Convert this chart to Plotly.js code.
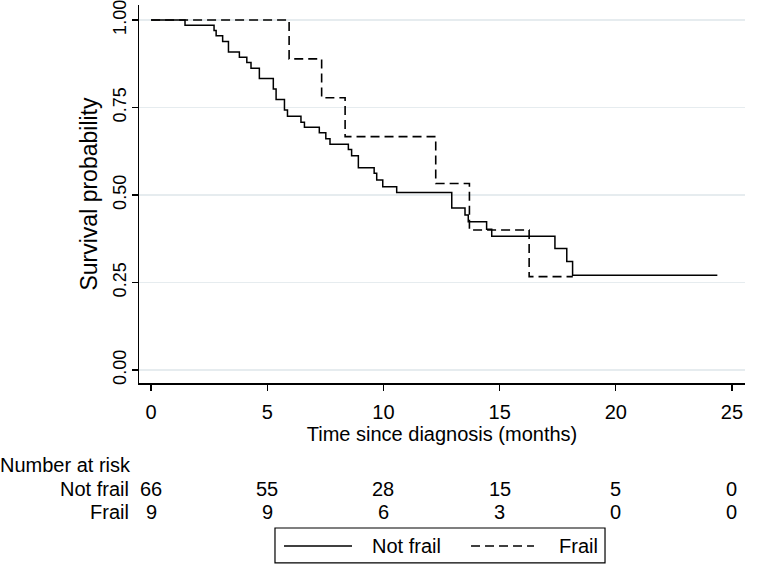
<!DOCTYPE html>
<html>
<head>
<meta charset="utf-8">
<script src="https://cdn.plot.ly/plotly-3.0.1.min.js"></script>
<style>html,body{margin:0;padding:0;background:#fff;}#chart{width:761px;height:568px;}</style>
</head>
<body>
<div id="chart"></div>
<script>
// Kaplan-Meier step data
const notFrailTime = [0, 1.46, 2.71, 2.80, 3.08, 3.33, 3.80, 4.12, 4.30, 4.66, 5.26, 5.38, 5.74, 5.87, 6.45, 6.60, 7.24, 7.52, 7.70, 8.49, 8.63, 8.92, 9.60, 9.71, 9.97, 10.57, 12.94, 13.51, 13.65, 14.44, 14.66, 17.38, 17.89, 18.14, 24.37];
const notFrailSurv = [1, 0.985, 0.970, 0.955, 0.939, 0.909, 0.894, 0.879, 0.862, 0.833, 0.803, 0.773, 0.743, 0.725, 0.708, 0.694, 0.678, 0.661, 0.645, 0.630, 0.612, 0.578, 0.562, 0.543, 0.524, 0.507, 0.463, 0.443, 0.424, 0.402, 0.382, 0.347, 0.310, 0.271, 0.271];
const frailTime = [0, 5.94, 7.34, 8.35, 12.25, 13.70, 16.27, 18.15];
const frailSurv = [1, 0.889, 0.778, 0.667, 0.533, 0.400, 0.267, 0.267];

const xTicks = [0, 5, 10, 15, 20, 25];
const yTicks = [0, 0.25, 0.5, 0.75, 1];
const yTickLabels = ["0.00", "0.25", "0.50", "0.75", "1.00"];
const riskTimes = [0, 5, 10, 15, 20, 25];
const riskNotFrail = [66, 55, 28, 15, 5, 0];
const riskFrail = [9, 9, 6, 3, 0, 0];
const groupNames = ["Not frail", "Frail"];

const FONT = '"Liberation Sans", Arial, sans-serif';
const FS = 20;
const TXT = {family: FONT, size: FS, color: '#000'};
const DASH = '9px,5px';

const traces = [
  {x: notFrailTime, y: notFrailSurv, type: 'scatter', mode: 'lines', name: groupNames[0], showlegend: false,
   line: {shape: 'hv', color: '#000', width: 1.5}},
  {x: frailTime, y: frailSurv, type: 'scatter', mode: 'lines', name: groupNames[1], showlegend: false,
   line: {shape: 'hv', color: '#000', width: 1.6, dash: DASH}}
];

const annotations = [];
annotations.push({xref: 'paper', yref: 'paper', x: -0.233, y: -0.217, xanchor: 'left', yanchor: 'middle',
  text: 'Number at risk', showarrow: false, font: TXT});
const rows = [[groupNames[0], riskNotFrail, -0.280], [groupNames[1], riskFrail, -0.340]];
rows.forEach(r => {
  annotations.push({xref: 'paper', yref: 'paper', x: -0.013, y: r[2], xanchor: 'right', yanchor: 'middle',
    text: r[0], showarrow: false, font: TXT});
  riskTimes.forEach((t, i) => {
    annotations.push({xref: 'x', yref: 'paper', x: t, y: r[2], xanchor: 'center', yanchor: 'middle',
      text: String(r[1][i]), showarrow: false, font: TXT});
  });
});

// legend (drawn below the risk table, Stata style)
const legY = -0.431;
annotations.push({xref: 'paper', yref: 'paper', x: 0.381, y: legY, xanchor: 'left', yanchor: 'middle',
  text: groupNames[0], showarrow: false, font: TXT});
annotations.push({xref: 'paper', yref: 'paper', x: 0.690, y: legY, xanchor: 'left', yanchor: 'middle',
  text: groupNames[1], showarrow: false, font: TXT});
const shapes = [
  {type: 'rect', xref: 'paper', yref: 'paper', x0: 0.2244, x1: 0.769, y0: -0.476, y1: -0.3836,
   line: {color: '#000', width: 1.2}, fillcolor: 'rgba(0,0,0,0)'},
  {type: 'line', xref: 'paper', yref: 'paper', x0: 0.2393, x1: 0.3515, y0: legY, y1: legY,
   line: {color: '#000', width: 1.5}},
  {type: 'line', xref: 'paper', yref: 'paper', x0: 0.5479, x1: 0.6518, y0: legY, y1: legY,
   line: {color: '#000', width: 1.5, dash: DASH}}
];

const layout = {
  width: 761, height: 568,
  margin: {l: 139, r: 16, t: 5, b: 185},
  paper_bgcolor: '#fff', plot_bgcolor: '#fff',
  font: TXT,
  showlegend: false,
  xaxis: {range: [-0.52, 25.56], tickvals: xTicks, ticktext: xTicks.map(String),
    showgrid: false, zeroline: false, showline: true, linecolor: '#000', linewidth: 1.5,
    ticks: 'outside', ticklen: 6, tickwidth: 1.2, tickcolor: '#000',
    ticklabelstandoff: 4,
    tickfont: TXT,
    title: {text: 'Time since diagnosis (months)', font: TXT, standoff: 0},
    automargin: false, fixedrange: true},
  yaxis: {range: [-0.037, 1.043], tickvals: yTicks, ticktext: yTickLabels, tickangle: -90,
    ticklabeloverflow: 'allow', ticklabelstandoff: -2,
    showgrid: true, gridcolor: '#e6ecef', gridwidth: 1.2, zeroline: false,
    showline: true, linecolor: '#000', linewidth: 1.5,
    ticks: 'outside', ticklen: 6, tickwidth: 1.2, tickcolor: '#000',
    tickfont: {family: FONT, size: 18, color: '#000'},
    title: {text: 'Survival probability', font: {family: FONT, size: 23, color: '#000'}, standoff: 6},
    automargin: false, fixedrange: true},
  annotations: annotations,
  shapes: shapes
};

Plotly.newPlot('chart', traces, layout, {displayModeBar: false, staticPlot: true});
</script>
</body>
</html>
